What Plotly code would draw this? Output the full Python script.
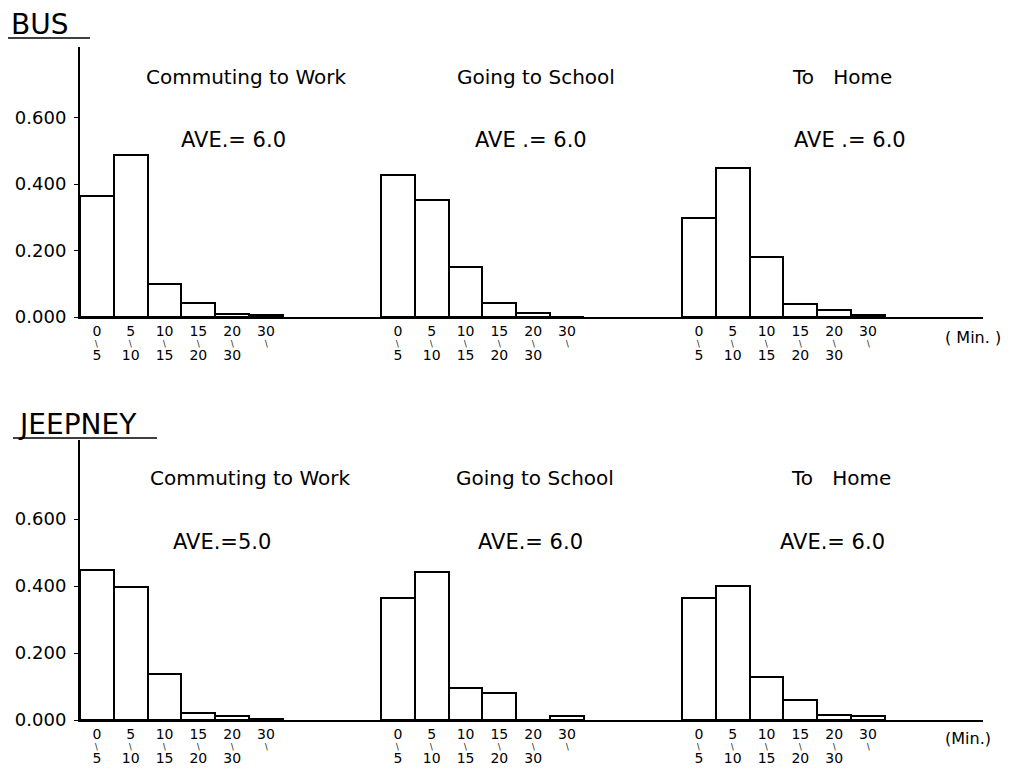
import plotly.graph_objects as go

# ---------------- data ----------------
bin_lower = ["0", "5", "10", "15", "20", "30"]
bin_upper = ["5", "10", "15", "20", "30", ""]
purposes = ["Commuting to Work", "Going to School", "To\u00a0\u00a0\u00a0Home"]

bus_work = [0.364, 0.487, 0.100, 0.042, 0.009, 0.007]
bus_school = [0.427, 0.352, 0.150, 0.042, 0.012, 0.000]
bus_home = [0.298, 0.448, 0.180, 0.038, 0.020, 0.006]

jeep_work = [0.447, 0.397, 0.137, 0.020, 0.012, 0.002]
jeep_school = [0.364, 0.442, 0.096, 0.081, 0.000, 0.012]
jeep_home = [0.364, 0.400, 0.128, 0.060, 0.015, 0.012]

bus_ave_text = ["AVE.= 6.0", "AVE .= 6.0", "AVE .= 6.0"]
jeep_ave_text = ["AVE.=5.0", "AVE.= 6.0", "AVE.= 6.0"]

y_tickvals = [0.0, 0.2, 0.4, 0.6]
y_ticktext = ["0.000", "0.200", "0.400", "0.600"]

# ---------------- layout helpers ----------------
W, H = 1011, 771
PAGE_OFF = 8             # default body margin of the html page
FONT = "DejaVu Sans"
GROUP_GAP = 8.9          # bins between group starts
X_RANGE = [0, 26.7]
TICK_FONT = dict(family=FONT, size=14, color="black")


def px_x(p):
    return (p - PAGE_OFF) / W


def px_y(p):
    return 1 - (p - PAGE_OFF) / H


def centers(g):
    return [g * GROUP_GAP + i + 0.5 for i in range(len(bin_lower))]


fig = go.Figure()

rows = [
    dict(name="BUS", series=[bus_work, bus_school, bus_home], ave=bus_ave_text,
         xa="x", xb="x3", ya="y", dom=[px_y(317), px_y(47)], yr=[0, 0.813],
         head=(9, 24, 38, 5, 90), title_y=77, ave_y=140,
         title_x=[246, 536, 842], ave_x=[233, 531, 850],
         min_text="( Min. )", min_xy=(973, 337)),
    dict(name="JEEPNEY", series=[jeep_work, jeep_school, jeep_home], ave=jeep_ave_text,
         xa="x2", xb="x4", ya="y2", dom=[px_y(720), px_y(440)], yr=[0, 0.836],
         head=(16, 424, 438, 13, 157), title_y=478, ave_y=542,
         title_x=[250, 535, 841], ave_x=[222, 530, 832],
         min_text="(Min.)", min_xy=(968, 738)),
]

annotations = []
shapes = []


def axkey(a, letter):
    return f"{letter}axis" if len(a) == 1 else f"{letter}axis{a[1:]}"


for r in rows:
    tickvals, lower_text, upper_text = [], [], []
    for g, vals in enumerate(r["series"]):
        cx = centers(g)
        fig.add_trace(go.Bar(
            x=cx, y=vals, width=1.0, xaxis=r["xa"], yaxis=r["ya"],
            marker=dict(color="white", line=dict(color="black", width=2)),
            showlegend=False, hoverinfo="skip"))
        tickvals += cx
        lower_text += bin_lower
        upper_text += bin_upper
        for c in cx:
            annotations.append(dict(
                x=c, y=0, xref=r["xa"], yref=r["ya"], text="\\", showarrow=False,
                yshift=-27, font=dict(family=FONT, size=8, color="black")))
        annotations.append(dict(
            x=px_x(r["title_x"][g]), y=px_y(r["title_y"]), xref="paper", yref="paper",
            text=purposes[g], showarrow=False, xanchor="center", yanchor="middle",
            font=dict(family=FONT, size=20, color="black")))
        annotations.append(dict(
            x=px_x(r["ave_x"][g]), y=px_y(r["ave_y"]), xref="paper", yref="paper",
            text=r["ave"][g], showarrow=False, xanchor="center", yanchor="middle",
            font=dict(family=FONT, size=21, color="black")))

    # invisible carrier for the second row of bin labels
    fig.add_trace(go.Scatter(
        x=tickvals, y=[0] * len(tickvals), xaxis=r["xb"], yaxis=r["ya"],
        mode="markers", marker=dict(opacity=0), showlegend=False, hoverinfo="skip"))

    hx, hy, uy, ux0, ux1 = r["head"]
    annotations.append(dict(
        x=px_x(hx), y=px_y(hy), xref="paper", yref="paper", text=r["name"],
        showarrow=False, xanchor="left", yanchor="middle",
        font=dict(family=FONT, size=28, color="black")))
    shapes.append(dict(type="line", xref="paper", yref="paper",
                       x0=px_x(ux0), x1=px_x(ux1), y0=px_y(uy), y1=px_y(uy),
                       line=dict(color="black", width=1.5)))
    mx, my = r["min_xy"]
    annotations.append(dict(
        x=px_x(mx), y=px_y(my), xref="paper", yref="paper", text=r["min_text"],
        showarrow=False, xanchor="center", yanchor="middle",
        font=dict(family=FONT, size=16, color="black")))

    fig.update_layout(**{
        axkey(r["xa"], "x"): dict(
            domain=[px_x(80), px_x(983)], range=X_RANGE, anchor=r["ya"],
            showline=True, linecolor="black", linewidth=2, showgrid=False,
            zeroline=False, ticks="", tickvals=tickvals, ticktext=lower_text,
            tickfont=TICK_FONT, ticklabelstandoff=0, automargin=False, fixedrange=True),
        axkey(r["xb"], "x"): dict(
            domain=[px_x(80), px_x(983)], range=X_RANGE, anchor=r["ya"],
            overlaying=r["xa"], side="bottom",
            showline=False, showgrid=False, zeroline=False, ticks="",
            tickvals=tickvals, ticktext=upper_text,
            tickfont=TICK_FONT, ticklabelstandoff=28, automargin=False, fixedrange=True),
        axkey(r["ya"], "y"): dict(
            domain=r["dom"], range=r["yr"], anchor=r["xa"],
            showline=True, linecolor="black", linewidth=2, showgrid=False,
            zeroline=False, ticks="outside", ticklen=4, tickwidth=1,
            tickcolor="black", tickvals=y_tickvals, ticktext=y_ticktext,
            tickfont=dict(family=FONT, size=18, color="black"),
            ticklabelstandoff=4, automargin=False, fixedrange=True),
    })

fig.update_layout(
    width=W, height=H, margin=dict(l=0, r=0, t=0, b=0),
    paper_bgcolor="white", plot_bgcolor="white", bargap=0,
    annotations=annotations, shapes=shapes,
    font=dict(family=FONT, color="black"),
)

fig.write_html("out.html")
